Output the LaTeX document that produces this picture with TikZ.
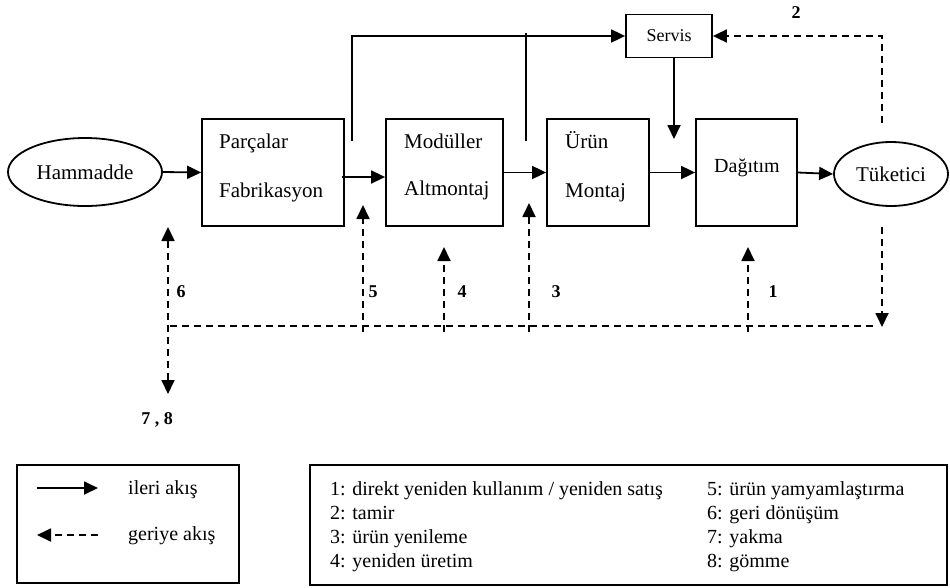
\documentclass[tikz,border=0pt]{standalone}
\usepackage{fontspec}
\setmainfont{Liberation Serif}
\usetikzlibrary{arrows.meta,shapes.geometric,calc}
\begin{document}
\begin{tikzpicture}[x=1pt,y=-1pt,
  lw/.style={line width=1.8pt},
  box/.style={draw, lw, inner sep=0pt},
  oval/.style={draw, lw, ellipse, inner sep=0pt},
  tip/.style={-{Triangle[length=14pt,width=13pt]}},
  fw/.style={lw, tip},
  dsh/.style={lw, dash pattern=on 7pt off 5pt},
  bw/.style={dsh, tip},
  lbl/.style={font=\fontsize{18}{22}\selectfont\bfseries, inner sep=0pt},
  txt/.style={font=\fontsize{21}{25}\selectfont, inner sep=0pt, anchor=base west},
  leg/.style={font=\fontsize{20}{24}\selectfont, inner sep=0pt, anchor=base west}
]
\useasboundingbox (0,0) rectangle (950,587);

% main nodes
\node[oval, minimum width=154pt, minimum height=68pt, font=\fontsize{21}{25}\selectfont] (ham) at (85,172) {Hammadde};
\node[box, minimum width=142pt, minimum height=107pt] (par) at (273,172.5) {};
\node[box, minimum width=117pt, minimum height=107pt] (mod) at (444.5,172.5) {};
\node[box, minimum width=102pt, minimum height=107pt] (uru) at (598,172.5) {};
\node[box, minimum width=101pt, minimum height=107pt] (dag) at (746.5,172.5) {};
\node[oval, minimum width=114pt, minimum height=64pt, font=\fontsize{21}{25}\selectfont] (tuk) at (891,174) {Tüketici};
\node[box, minimum width=86pt, minimum height=43pt, font=\fontsize{18}{22}\selectfont] (ser) at (669,36) {Servis};

% box texts
\node[txt] (par1) at (219,148) {Parçalar};
\node[txt] (par2) at (219,197) {Fabrikasyon};
\node[txt] (mod1) at (404,148) {Modüller};
\node[txt] (mod2) at (404,195) {Altmontaj};
\node[txt] (uru1) at (565,148) {Ürün};
\node[txt] (uru2) at (565,197) {Montaj};
\node[font=\fontsize{20}{24}\selectfont, inner sep=0pt, anchor=base] (dag1) at (747,172) {Dağıtım};

% forward flow
\draw[fw] (ham.east) -- (par.west);
\draw[fw] ($(par.east)+(-3,4.5)$) -- ($(mod.west)+(0,4.5)$);
\draw[fw] (mod.east) -- (uru.west);
\draw[fw] (uru.east) -- (dag.west);
\draw[fw] (dag.east) -- (tuk.west);

\coordinate (v1) at (352,141);
\coordinate (v2) at (526,141);
\coordinate (v2t) at (526,33);
\draw[fw] (v1) |- (ser.west);
\draw[lw] (v2) -- (v2t);
\coordinate (sd) at (674,139);
\draw[fw] (ser.south -| sd) -- (sd);

% backward flow
\coordinate (r2) at (882,123);
\draw[bw] (r2) |- (ser.east);
\coordinate (tb) at (882,227);
\coordinate (tbe) at (882,327);
\draw[bw] (tb) -- (tbe);
\coordinate (hR) at (873,326);
\coordinate (hL) at (168,326);
\draw[dsh] (hR) -- (hL);

\coordinate (s6a) at (168,227);
\coordinate (s6b) at (168,394);
\draw[dsh, {Triangle[length=14pt,width=13pt]}-{Triangle[length=14pt,width=13pt]}] (s6a) -- (s6b);

\coordinate (b5) at (363,332); \coordinate (t5) at (363,205);
\coordinate (b4) at (444,332); \coordinate (t4) at (444,247);
\coordinate (b3) at (529,332); \coordinate (t3) at (529,203);
\coordinate (b1) at (748,332); \coordinate (t1) at (748,247);
\draw[bw] (b5) -- (t5);
\draw[bw] (b4) -- (t4);
\draw[bw] (b3) -- (t3);
\draw[bw] (b1) -- (t1);

% labels
\node[lbl] (l2) at (796,13) {2};
\node[lbl] (l6) at (181,292) {6};
\node[lbl] (l5) at (373,292) {5};
\node[lbl] (l4) at (462,292) {4};
\node[lbl] (l3) at (556,292) {3};
\node[lbl] (l1) at (773,292) {1};
\node[lbl] (l78) at (157,420) {7 , 8};

% legend left
\node[draw, lw, minimum width=222pt, minimum height=118pt, inner sep=0pt] (legA) at (128,524) {};
\coordinate (la1) at (37,488); \coordinate (la2) at (98,488);
\draw[fw] (la1) -- (la2);
\coordinate (lb1) at (98,535); \coordinate (lb2) at (37,535);
\draw[bw] (lb1) -- (lb2);
\node[leg] (ileri) at (128,494) {ileri akış};
\node[leg] (geri) at (128,540) {geriye akış};

% legend right
\node[draw, lw, minimum width=637pt, minimum height=120pt, inner sep=0pt] (legB) at (628.5,525) {};
\node[leg] (k1) at (330,495) {1: direkt yeniden kullanım / yeniden satış};
\node[leg] (k2) at (330,519) {2: tamir};
\node[leg] (k3) at (330,543) {3: ürün yenileme};
\node[leg] (k4) at (330,567) {4: yeniden üretim};
\node[leg] (k5) at (707,495) {5: ürün yamyamlaştırma};
\node[leg] (k6) at (707,519) {6: geri dönüşüm};
\node[leg] (k7) at (707,543) {7: yakma};
\node[leg] (k8) at (707,567) {8: gömme};
\end{tikzpicture}
\end{document}
